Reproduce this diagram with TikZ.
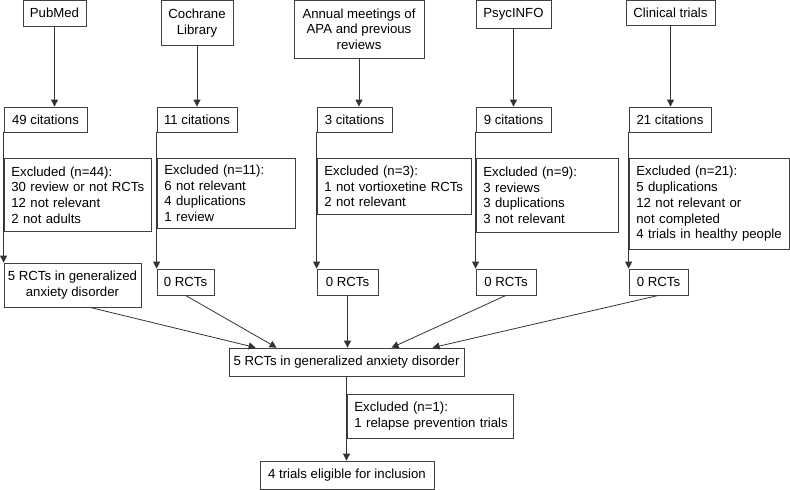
\documentclass[tikz,border=0pt]{standalone}
\usepackage{fontspec}
\setmainfont{Liberation Sans}
\usetikzlibrary{arrows.meta,calc}
\begin{document}
\begin{tikzpicture}[x=1pt,y=-1pt,
  every node/.style={font=\fontsize{13.2}{15.7}\selectfont},
  box/.style={draw=black!75,line width=0.8pt,inner sep=0pt,align=center},
  lbox/.style={draw=black!75,line width=0.8pt,anchor=north west,inner xsep=7pt,inner ysep=0pt,align=left},
  arr/.style={draw=black!80,line width=0.8pt,-{Triangle[width=7pt,length=7pt]}},
  ln/.style={draw=black!80,line width=0.8pt}]
\useasboundingbox (0,0) rectangle (790,490);
% sources
\node[box,minimum width=63,minimum height=25.5] (s1) at (54.5,13.25) {PubMed};
\node[box,minimum width=72,minimum height=44.5] (s2) at (197,22.75) {Cochrane\\Library};
\node[box,minimum width=130,minimum height=57.5] (s3) at (359,29.25) {Annual meetings of\\APA and previous\\reviews};
\node[box,minimum width=75,minimum height=27.5] (s4) at (513.5,14.25) {PsycINFO};
\node[box,minimum width=89,minimum height=24.5] (s5) at (670.5,12.75) {Clinical trials};
% citations
\node[box,minimum width=83,minimum height=25] (c1) at (45.5,119.5) {49 citations};
\node[box,minimum width=80,minimum height=25] (c2) at (197,119.5) {11 citations};
\node[box,minimum width=75,minimum height=25] (c3) at (354.5,119.5) {3 citations};
\node[box,minimum width=75,minimum height=25] (c4) at (513.5,119.5) {9 citations};
\node[box,minimum width=82,minimum height=25] (c5) at (670,119.5) {21 citations};
% excluded
\node[lbox,text width=133,minimum height=73] (e1) at (4,158) {\mbox{Excluded (n=44):}\\\mbox{30 review or not RCTs}\\\mbox{12 not relevant}\\\mbox{2 not adults}};
\node[lbox,text width=124,minimum height=70] (e2) at (157,158) {\mbox{Excluded (n=11):}\\\mbox{6 not relevant}\\\mbox{4 duplications}\\\mbox{1 review}};
\node[lbox,text width=140,minimum height=56] (e3) at (317,158) {\mbox{Excluded (n=3):}\\\mbox{1 not vortioxetine RCTs}\\\mbox{2 not relevant}};
\node[lbox,text width=128,minimum height=74] (e4) at (476,158) {\mbox{Excluded (n=9):}\\\mbox{3 reviews}\\\mbox{3 duplications}\\\mbox{3 not relevant}};
\node[lbox,text width=146,minimum height=91] (e5) at (629,158) {\mbox{Excluded (n=21):}\\\mbox{5 duplications}\\\mbox{12 not relevant or}\\\mbox{not completed}\\\mbox{4 trials in healthy people}};
% RCTs
\node[box,minimum width=137,minimum height=44] (r1) at (72.5,285) {5 RCTs in generalized\\anxiety disorder};
\node[box,minimum width=57,minimum height=26] (r2) at (185.5,282) {0 RCTs};
\node[box,minimum width=61,minimum height=26] (r3) at (347.5,282) {0 RCTs};
\node[box,minimum width=60,minimum height=26] (r4) at (506,282) {0 RCTs};
\node[box,minimum width=59,minimum height=26] (r5) at (658.5,282) {0 RCTs};
% merge
\node[box,minimum width=235,minimum height=28] (m) at (346.5,362) {5 RCTs in generalized anxiety disorder};
\node[lbox,text width=152,minimum height=44] (e6) at (347,394) {\mbox{Excluded (n=1):}\\\mbox{1 relapse prevention trials}};
\node[box,minimum width=174,minimum height=28] (f) at (347,475) {4 trials eligible for inclusion};
% arrows
\foreach \i in {1,...,5} {
  \draw[arr] (s\i.south) -- (s\i.south |- c\i.north);
  \draw[arr] (c\i.south west) -- (r\i.north west);
}
\draw[arr] ($(r1.south)+(17.5,0)$) -- ($(m.north west)+(27,0)$);
\draw[arr] (r2.south) -- ($(m.north west)+(48,0)$);
\draw[arr] (r3.south) -- (r3.south |- m.north);
\draw[arr] (r4.south) -- ($(m.north west)+(163,0)$);
\draw[arr] (r5.south) -- ($(m.north west)+(204,0)$);
\draw[arr] (m.south) -- (m.south |- f.north);
\end{tikzpicture}
\end{document}
